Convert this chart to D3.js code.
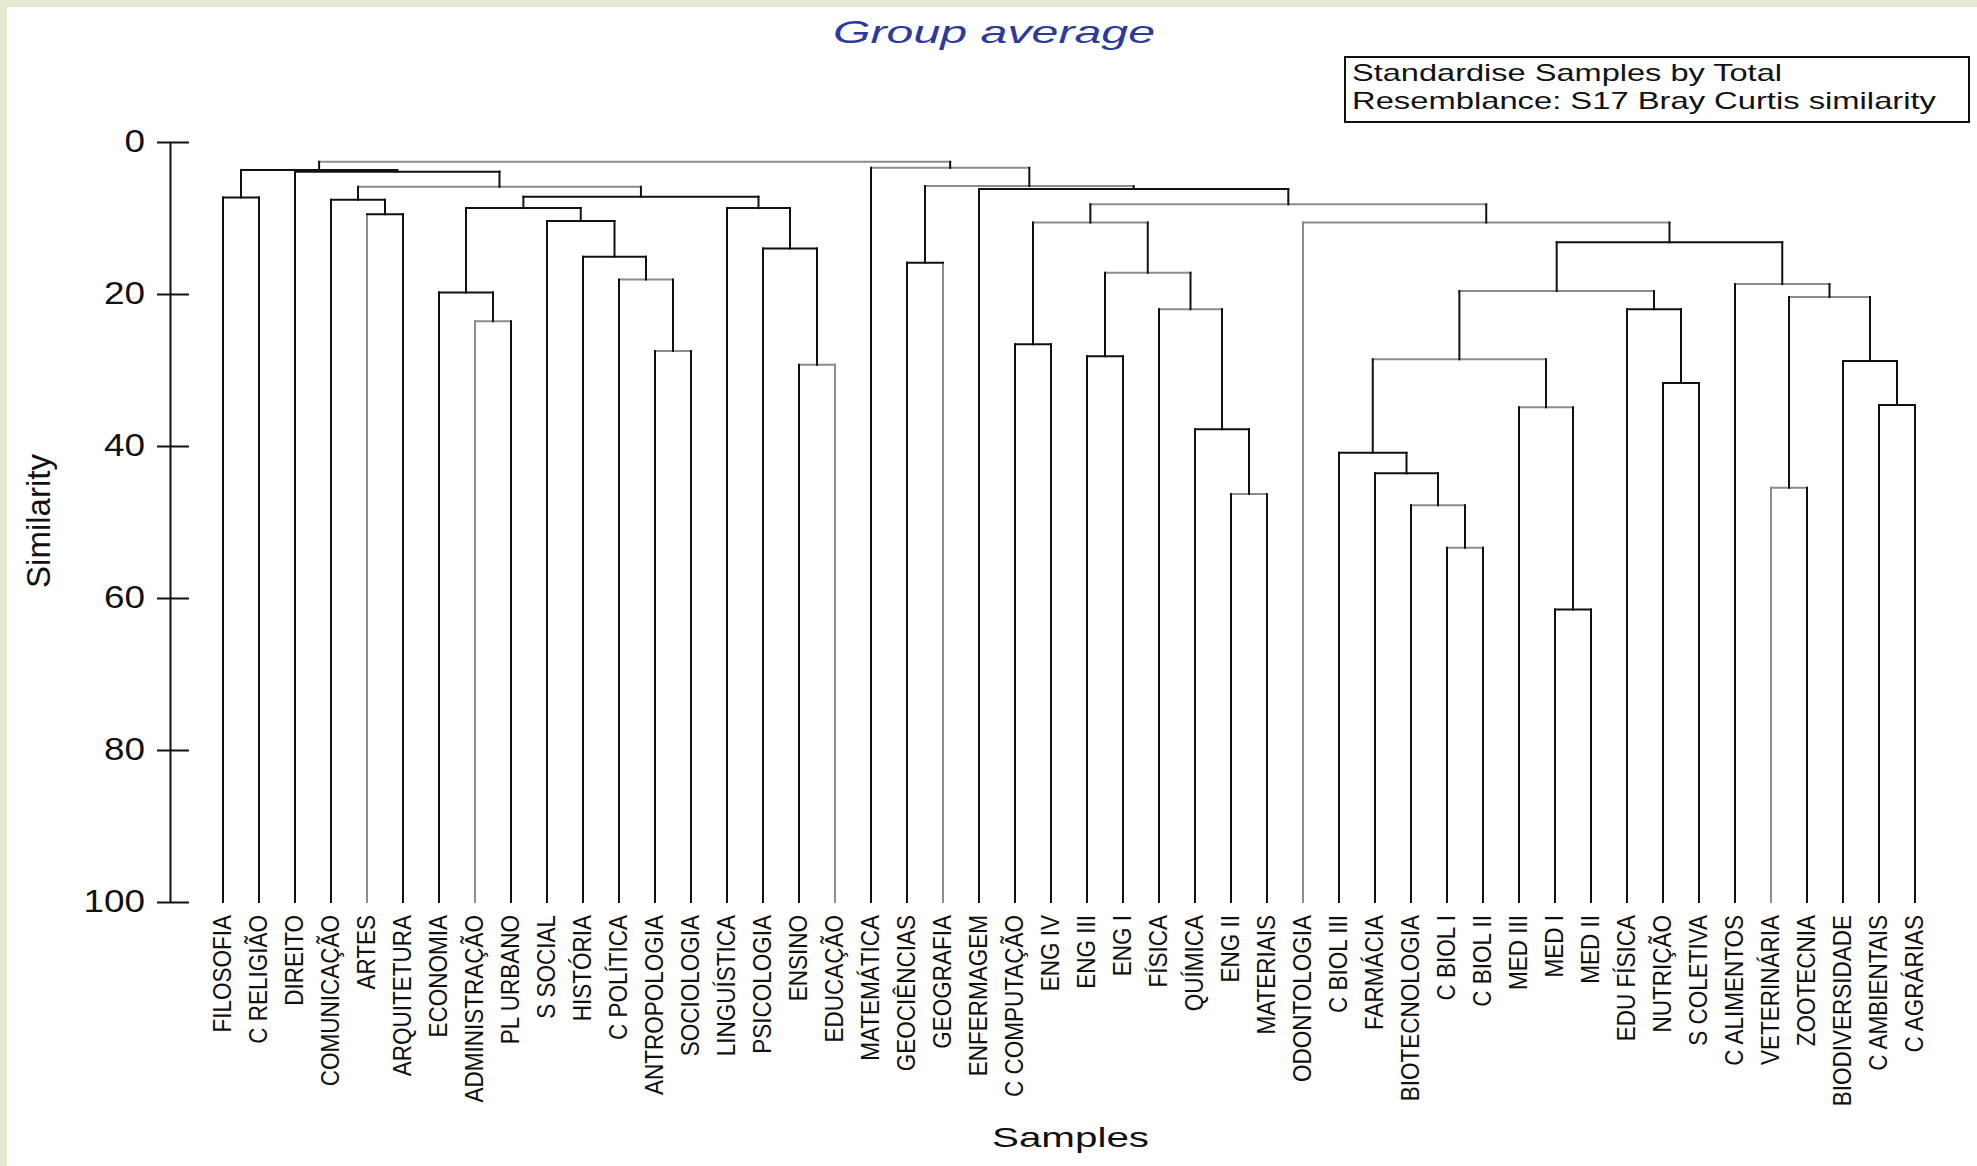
<!DOCTYPE html>
<html>
<head>
<meta charset="utf-8">
<script src="https://cdn.jsdelivr.net/npm/d3@7"></script>
<style>
body{margin:0;background:#fff;overflow:hidden;}
text{font-family:"Liberation Sans",Arial,sans-serif;}
</style>
</head>
<body>
<svg></svg>
<script>
// leaf order along the x axis
var samples = ["FILOSOFIA","C RELIGIÃO","DIREITO","COMUNICAÇÃO","ARTES","ARQUITETURA",
  "ECONOMIA","ADMINISTRAÇÃO","PL URBANO","S SOCIAL","HISTÓRIA","C POLÍTICA",
  "ANTROPOLOGIA","SOCIOLOGIA","LINGUÍSTICA","PSICOLOGIA","ENSINO","EDUCAÇÃO",
  "MATEMÁTICA","GEOCIÊNCIAS","GEOGRAFIA","ENFERMAGEM","C COMPUTAÇÃO","ENG IV",
  "ENG III","ENG I","FÍSICA","QUÍMICA","ENG II","MATERIAIS","ODONTOLOGIA",
  "C BIOL III","FARMÁCIA","BIOTECNOLOGIA","C BIOL I","C BIOL II","MED III",
  "MED I","MED II","EDU FÍSICA","NUTRIÇÃO","S COLETIVA","C ALIMENTOS",
  "VETERINÁRIA","ZOOTECNIA","BIODIVERSIDADE","C AMBIENTAIS","C AGRÁRIAS"];

// merge steps: [id, left, right, similarity]
var merges = [
  ["m1","FILOSOFIA","C RELIGIÃO",7.3],
  ["m2","ARTES","ARQUITETURA",9.5],
  ["m3","COMUNICAÇÃO","m2",7.6],
  ["m4","ADMINISTRAÇÃO","PL URBANO",23.6],
  ["m5","ECONOMIA","m4",19.8],
  ["m6","ANTROPOLOGIA","SOCIOLOGIA",27.5],
  ["m7","C POLÍTICA","m6",18.1],
  ["m8","HISTÓRIA","m7",15.1],
  ["m9","S SOCIAL","m8",10.4],
  ["m10","m5","m9",8.7],
  ["m11","ENSINO","EDUCAÇÃO",29.3],
  ["m12","PSICOLOGIA","m11",14.0],
  ["m13","LINGUÍSTICA","m12",8.7],
  ["m14","m10","m13",7.2],
  ["m15","m3","m14",5.9],
  ["m16","DIREITO","m15",3.9],
  ["m17","m1","m16",3.7],
  ["m18","GEOCIÊNCIAS","GEOGRAFIA",15.9],
  ["m19","C COMPUTAÇÃO","ENG IV",26.6],
  ["m20","ENG III","ENG I",28.2],
  ["m21","ENG II","MATERIAIS",46.3],
  ["m22","QUÍMICA","m21",37.8],
  ["m23","FÍSICA","m22",22.0],
  ["m24","m20","m23",17.2],
  ["m25","m19","m24",10.6],
  ["m26","C BIOL I","C BIOL II",53.4],
  ["m27","BIOTECNOLOGIA","m26",47.8],
  ["m28","FARMÁCIA","m27",43.6],
  ["m29","C BIOL III","m28",40.9],
  ["m30","MED I","MED II",61.5],
  ["m31","MED III","m30",34.9],
  ["m32","m29","m31",28.6],
  ["m33","NUTRIÇÃO","S COLETIVA",31.7],
  ["m34","EDU FÍSICA","m33",22.0],
  ["m35","m32","m34",19.6],
  ["m36","VETERINÁRIA","ZOOTECNIA",45.5],
  ["m37","C AMBIENTAIS","C AGRÁRIAS",34.6],
  ["m38","BIODIVERSIDADE","m37",28.8],
  ["m39","m36","m38",20.4],
  ["m40","C ALIMENTOS","m39",18.7],
  ["m41","m35","m40",13.2],
  ["m42","ODONTOLOGIA","m41",10.6],
  ["m43","m25","m42",8.2],
  ["m44","ENFERMAGEM","m43",6.2],
  ["m45","m18","m44",5.8],
  ["m46","MATEMÁTICA","m45",3.4],
  ["m47","m17","m46",2.6]
];

var yTicks = [0,20,40,60,80,100];

// lines that come out lighter in the original print
var grayLeaves = ["ARTES","ADMINISTRAÇÃO","EDUCAÇÃO","GEOGRAFIA","ODONTOLOGIA","VETERINÁRIA"];
var grayBars = ["m4","m6","m7","m11","m15","m21","m23","m24","m25","m26","m27","m31",
  "m32","m35","m36","m39","m40","m42","m43","m45","m46","m47"];

function go(){
  var width = 1977, height = 1166;
  var svg = d3.select("svg").attr("width",width).attr("height",height);

  // slide frame
  svg.append("rect").attr("width",width).attr("height",height).attr("fill","#e4ebd2");
  svg.append("rect").attr("x",7).attr("y",7).attr("width",width-7).attr("height",height-7).attr("fill","#fff");

  var xScale = d3.scalePoint().domain(samples).range([223,1915]);
  var yScale = d3.scaleLinear().domain([0,100]).range([142,902]);

  var pos = {};
  samples.forEach(function(d){ pos[d] = {x:xScale(d), s:100}; });

  var segs = [];
  merges.forEach(function(m){
    var a = pos[m[1]], b = pos[m[2]];
    pos[m[0]] = {x:(a.x+b.x)/2, s:m[3]};
    [m[1],m[2]].forEach(function(c){
      segs.push({x1:pos[c].x, x2:pos[c].x, s1:pos[c].s, s2:m[3],
                 gray: grayLeaves.indexOf(c)>=0});
    });
    segs.push({x1:a.x, x2:b.x, s1:m[3], s2:m[3], gray: grayBars.indexOf(m[0])>=0});
  });
  segs.sort(function(p,q){ return (q.gray?1:0)-(p.gray?1:0); });

  svg.append("g").selectAll("line").data(segs).join("line")
     .attr("x1",function(d){return d.x1;})
     .attr("x2",function(d){return d.x2;})
     .attr("y1",function(d){return yScale(d.s1);})
     .attr("y2",function(d){return yScale(d.s2);})
     .attr("stroke",function(d){return d.gray ? "#8c8c8c" : "#111";})
     .attr("stroke-width",2)
     .attr("stroke-linecap","square");

  // y axis
  var yAxis = d3.axisLeft(yScale).tickValues(yTicks).tickSize(13).tickSizeOuter(0);
  var g = svg.append("g").attr("transform","translate(170,0)").call(yAxis);
  g.attr("font-family","Liberation Sans, Arial, sans-serif").attr("font-size",31);
  g.select(".domain").attr("stroke","#111").attr("stroke-width",2);
  g.selectAll(".tick line").attr("x1",19).attr("stroke","#111").attr("stroke-width",2);
  g.selectAll(".tick text").attr("x",null).attr("fill","#111")
   .attr("transform","translate(-25,0) scale(1.19,1)");

  // leaf labels
  svg.append("g").selectAll("text").data(samples).join("text")
     .attr("transform",function(d){ return "translate("+(xScale(d)+8)+",915) scale(1.15,1) rotate(-90)"; })
     .attr("text-anchor","end")
     .attr("fill","#111")
     .style("font-size","22.5px")
     .text(function(d){return d;});

  // titles
  svg.append("text").attr("x",833).attr("y",43)
     .attr("textLength",322).attr("lengthAdjust","spacingAndGlyphs")
     .attr("fill","#2e399c").style("font-size","32px").style("font-style","italic")
     .text("Group average");

  svg.append("text").attr("x",992).attr("y",1147)
     .attr("textLength",157).attr("lengthAdjust","spacingAndGlyphs")
     .attr("fill","#111").style("font-size","28px")
     .text("Samples");

  svg.append("text").attr("transform","translate(50,521) rotate(-90)")
     .attr("text-anchor","middle").attr("fill","#111").style("font-size","33px")
     .text("Similarity");

  // note box
  svg.append("rect").attr("x",1345).attr("y",57).attr("width",624).attr("height",65)
     .attr("fill","#fff").attr("stroke","#111").attr("stroke-width",2);
  svg.append("text").attr("x",1352).attr("y",81)
     .attr("textLength",430).attr("lengthAdjust","spacingAndGlyphs")
     .attr("fill","#111").style("font-size","24px")
     .text("Standardise Samples by Total");
  svg.append("text").attr("x",1352).attr("y",109)
     .attr("textLength",584).attr("lengthAdjust","spacingAndGlyphs")
     .attr("fill","#111").style("font-size","24px")
     .text("Resemblance: S17 Bray Curtis similarity");
}

go();
</script>
</body>
</html>
